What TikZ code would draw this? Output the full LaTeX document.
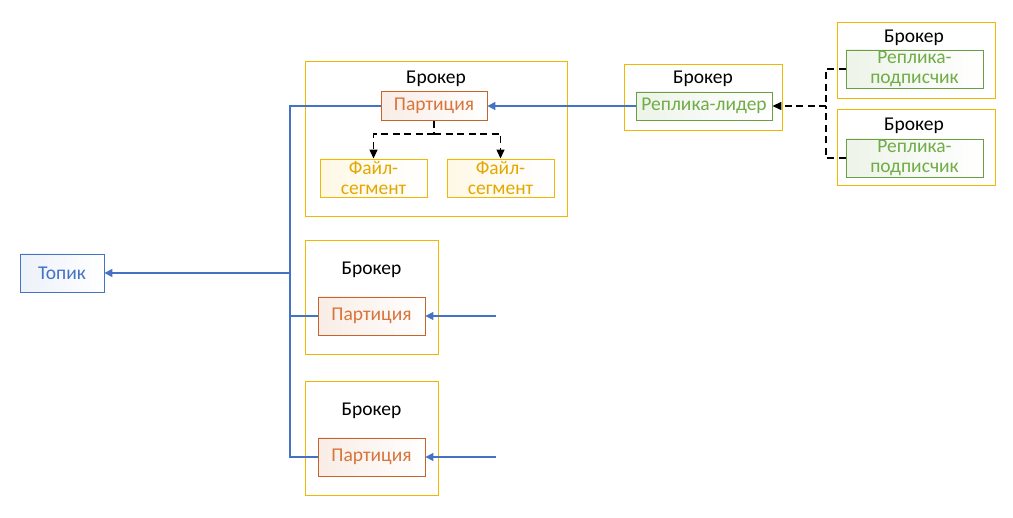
\documentclass[tikz,border=0pt]{standalone}
\usepackage{fontspec}
\setmainfont{Carlito}
\usetikzlibrary{arrows.meta}
\definecolor{cblue}{HTML}{4472C4}
\definecolor{corange}{HTML}{C8642A}
\definecolor{corangeT}{HTML}{D9743A}
\definecolor{cgold}{HTML}{F2B800}
\definecolor{cgoldT}{HTML}{E3A800}
\definecolor{cgreen}{HTML}{6A9E45}
\definecolor{cgreenT}{HTML}{70AD47}
\tikzset{
  broker/.style={draw=cgold, line width=0.8pt, fill=white},
  brk/.style={font=\fontsize{19.5}{20}\selectfont, text=black, inner sep=0pt},
  partbox/.style={draw=corange, line width=0.9pt, left color=corange!12, right color=white, text=corangeT, font=\fontsize{19.5}{20}\selectfont, inner sep=0pt},
  segbox/.style={draw=cgold, line width=0.9pt, left color=cgold!10, right color=white, text=cgoldT, font=\fontsize{19.5}{20}\selectfont, inner sep=0pt, align=center},
  repbox/.style={draw=cgreen, line width=0.9pt, left color=cgreen!12, right color=white, text=cgreenT, font=\fontsize{19.5}{20}\selectfont, inner sep=0pt, align=center},
  topbox/.style={draw=cblue, line width=0.9pt, left color=cblue!10, right color=white, text=cblue, font=\fontsize{19.5}{20}\selectfont, inner sep=0pt},
  bline/.style={draw=cblue, line width=1.4pt},
  barrow/.style={bline, -{Triangle[length=8pt,width=8pt]}},
  dline/.style={draw=black, line width=1.4pt, dash pattern=on 7pt off 4.5pt},
  darrow/.style={dline, -{Triangle[length=9pt,width=8pt]}},
}
\begin{document}
\begin{tikzpicture}[x=1pt,y=-1pt]
\useasboundingbox (0,0) rectangle (1013,518);
% topic
\node[topbox, minimum width=84pt, minimum height=38pt] (topik) at (62,273) {Топик};
% broker 1
\node[broker, minimum width=262pt, minimum height=155pt] (b1) at (436,138.5) {};
\node[brk] (b1t) at (436,78.5) {Брокер};
\node[partbox, minimum width=106pt, minimum height=29pt] (p1) at (434,106) {Партиция};
\node[segbox, minimum width=107pt, minimum height=38pt] (s1) at (373.5,178) {Файл-\\сегмент};
\node[segbox, minimum width=107pt, minimum height=38pt] (s2) at (500.5,178) {Файл-\\сегмент};
% broker 2 (leader)
\node[broker, minimum width=158pt, minimum height=66pt] (b2) at (703,97) {};
\node[brk] (b2t) at (703,78.5) {Брокер};
\node[repbox, minimum width=136pt, minimum height=28pt] (rl) at (704,106) {Реплика-лидер};
% broker 3
\node[broker, minimum width=158pt, minimum height=76pt] (b3) at (916,60) {};
\node[brk] (b3t) at (914,37.5) {Брокер};
\node[repbox, minimum width=137pt, minimum height=38pt] (r3) at (914.5,69) {Реплика-\\подписчик};
% broker 4
\node[broker, minimum width=158pt, minimum height=76pt] (b4) at (916,147) {};
\node[brk] (b4t) at (914,125.5) {Брокер};
\node[repbox, minimum width=137pt, minimum height=38pt] (r4) at (914.5,158) {Реплика-\\подписчик};
% broker 5
\node[broker, minimum width=133pt, minimum height=114pt] (b5) at (371.5,297) {};
\node[brk] (b5t) at (371.5,269.5) {Брокер};
\node[partbox, minimum width=107pt, minimum height=38pt] (p5) at (371.5,316) {Партиция};
% broker 6
\node[broker, minimum width=133pt, minimum height=114pt] (b6) at (371.5,438) {};
\node[brk] (b6t) at (371.5,410.5) {Брокер};
\node[partbox, minimum width=107pt, minimum height=38pt] (p6) at (371.5,457) {Партиция};
% coordinates
\coordinate (trunkMid) at (290,273);
\coordinate (in5) at (496,316);
\coordinate (in6) at (496,457);
\coordinate (dsplit) at (434,134);
\coordinate (rjoin) at (826,106);
% blue connectors
\draw[bline] (p1.west) -| (trunkMid) |- (p6.west);
\draw[bline] (p5.west) -- (p5.west -| trunkMid);
\draw[barrow] (trunkMid) -- (topik.east);
\draw[barrow] (rl.west) -- (p1.east);
\draw[barrow] (in5) -- (p5.east);
\draw[barrow] (in6) -- (p6.east);
% dashed segment connectors
\draw[dline] (p1.south) -- (dsplit);
\draw[darrow] (dsplit) -| (s1.north);
\draw[darrow] (dsplit) -| (s2.north);
% dashed replica connectors
\draw[dline] (r3.west) -| (rjoin);
\draw[dline] (r4.west) -| (rjoin);
\draw[darrow] (rjoin) -- (rl.east);
\end{tikzpicture}
\end{document}
